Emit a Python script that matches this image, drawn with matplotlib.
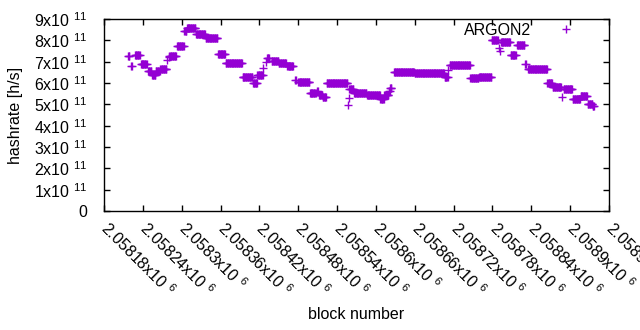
import numpy as np
import matplotlib
matplotlib.use('Agg')
import matplotlib.pyplot as plt
from matplotlib.ticker import FixedLocator, FuncFormatter

plt.rcParams['font.family'] = ['Liberation Sans', 'DejaVu Sans']
plt.rcParams['mathtext.fontset'] = 'custom'
plt.rcParams['mathtext.rm'] = 'Liberation Sans'
plt.rcParams['mathtext.it'] = 'Liberation Sans'

# runs of equal hashrate: first block, last block, rate [1e11 h/s]
seg_start = [2058217, 2058222, 2058228, 2058237, 2058248, 2058254, 2058260, 2058267,
             2058277, 2058280, 2058281, 2058293, 2058304, 2058308, 2058322, 2058337,
             2058356, 2058368, 2058394, 2058410, 2058417, 2058426, 2058430, 2058432,
             2058439, 2058450, 2058463, 2058475, 2058480, 2058498, 2058509, 2058512,
             2058518, 2058524, 2058557, 2058558, 2058559, 2058566, 2058586, 2058607,
             2058613, 2058620, 2058622, 2058628, 2058660, 2058706, 2058712, 2058714,
             2058746, 2058759, 2058779, 2058790, 2058791, 2058793, 2058808, 2058818,
             2058831, 2058835, 2058865, 2058873, 2058887, 2058890, 2058904, 2058916,
             2058927, 2058935]
seg_end = [2058219, 2058223, 2058235, 2058246, 2058253, 2058259, 2058266, 2058276,
           2058277, 2058280, 2058291, 2058303, 2058307, 2058321, 2058336, 2058355,
           2058367, 2058393, 2058409, 2058416, 2058425, 2058426, 2058430, 2058435,
           2058449, 2058461, 2058472, 2058476, 2058497, 2058507, 2058510, 2058517,
           2058523, 2058556, 2058557, 2058558, 2058565, 2058585, 2058606, 2058612,
           2058619, 2058621, 2058624, 2058659, 2058705, 2058711, 2058712, 2058745,
           2058758, 2058778, 2058788, 2058790, 2058791, 2058807, 2058816, 2058829,
           2058832, 2058864, 2058872, 2058886, 2058887, 2058903, 2058915, 2058926,
           2058934, 2058937]
seg_rate = [7.25, 6.80, 7.31, 6.89, 6.54, 6.37, 6.54, 6.66,
            7.08, 7.20, 7.27, 7.74, 8.46, 8.58, 8.32, 8.11,
            7.36, 6.94, 6.30, 6.00, 6.38, 6.70, 6.98, 7.17,
            7.05, 6.94, 6.80, 6.14, 6.05, 5.53, 5.62, 5.44,
            5.34, 6.00, 4.97, 5.30, 5.72, 5.53, 5.46, 5.25,
            5.44, 5.62, 5.77, 6.52, 6.47, 6.28, 6.61, 6.84,
            6.24, 6.28, 8.02, 7.62, 7.48, 7.92, 7.31, 7.80,
            6.87, 6.66, 6.00, 5.83, 5.34, 5.72, 5.25, 5.39,
            5.02, 4.92]

blocks = np.concatenate([np.arange(s, e + 1) for s, e in zip(seg_start, seg_end)])
rates = np.concatenate([np.full(e - s + 1, r * 1e11)
                        for s, e, r in zip(seg_start, seg_end, seg_rate)])

purple = '#9400d3'
fs = 11.5

fig = plt.figure(figsize=(6.4, 3.3), dpi=100)
ax = fig.add_axes([104 / 640, 1 - 211 / 330, 505 / 640, 192 / 330])
ax.plot(blocks, rates, linestyle='none', marker='+', markersize=5.5,
        markeredgewidth=1.0, color=purple, label='ARGON2')

ax.set_xlim(2058180, 2058960)
ax.set_ylim(0, 9e11)

ax.xaxis.set_major_locator(FixedLocator(np.arange(2058180, 2058961, 60)))
ax.yaxis.set_major_locator(FixedLocator(np.arange(0, 9.1e11, 1e11)))
ax.xaxis.set_major_formatter(FuncFormatter(lambda v, p: '{:g}x10 $^{{6}}$'.format(v / 1e6)))
ax.yaxis.set_major_formatter(FuncFormatter(
    lambda v, p: '0' if v == 0 else '{:d}x10 $^{{11}}$'.format(int(round(v / 1e11)))))

ax.tick_params(direction='in', length=4, width=1, top=True, right=True,
               labelsize=fs, colors='black')
ax.tick_params(axis='y', pad=12)
ax.tick_params(axis='x', pad=10)
for lab in ax.get_xticklabels():
    lab.set_rotation(-45)
    lab.set_ha('left')
    lab.set_va('center')
    lab.set_rotation_mode('anchor')
for sp in ax.spines.values():
    sp.set_linewidth(1)

ax.set_xlabel('block number', fontsize=fs)
ax.set_ylabel('hashrate [h/s]', fontsize=fs)
ax.xaxis.set_label_coords(0.5, -0.5)
ax.yaxis.set_label_coords(-0.16, 0.5)

ax.legend(loc='upper right', bbox_to_anchor=(0.9465, 0.98), frameon=False,
          markerfirst=False, numpoints=1, fontsize=fs, borderpad=0,
          borderaxespad=0, handlelength=2, handletextpad=1.2)

fig.savefig('out.png', dpi=100)
